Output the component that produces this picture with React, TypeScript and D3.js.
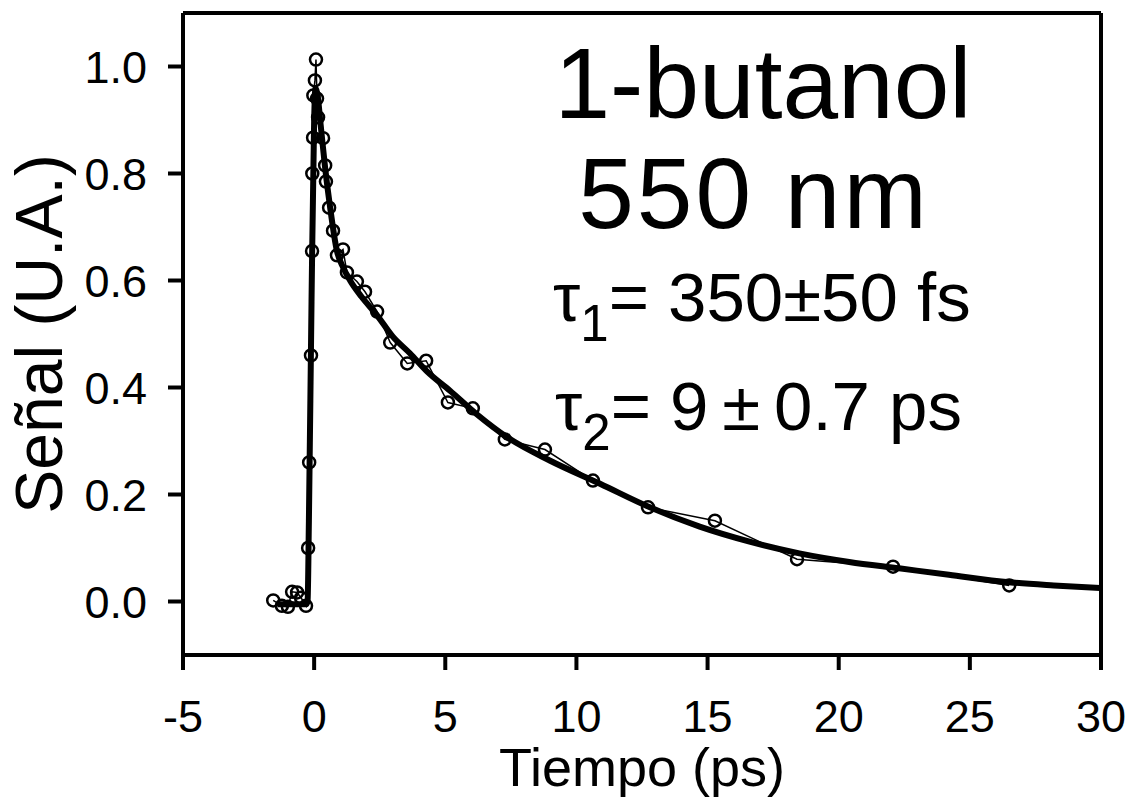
import React from "react";
import * as d3 from "d3";

const dataTime = [-1.56, -1.23, -1.0, -0.84, -0.65, -0.5, -0.31, -0.23, -0.19, -0.12, -0.08, -0.07, -0.04, -0.03, 0.03, 0.07, 0.11, 0.15, 0.34, 0.42, 0.45, 0.57, 0.72, 0.87, 1.1, 1.25, 1.63, 1.94, 2.4, 2.9, 3.55, 4.27, 5.1, 6.05, 7.27, 8.8, 10.63, 12.73, 15.28, 18.41, 22.07, 26.5];
const dataSignal = [0.002, -0.008, -0.01, 0.018, 0.017, 0.007, -0.008, 0.1, 0.26, 0.46, 0.655, 0.8, 0.867, 0.946, 0.974, 1.013, 0.94, 0.905, 0.866, 0.815, 0.785, 0.736, 0.693, 0.647, 0.658, 0.615, 0.598, 0.579, 0.542, 0.484, 0.445, 0.45, 0.372, 0.361, 0.303, 0.284, 0.226, 0.176, 0.151, 0.079, 0.065, 0.03];

const fitTime = [-1.4, -0.3, -0.25, -0.2, -0.1, 0.0, 0.05, 0.12, 0.25, 0.42, 0.6, 0.87, 1.1, 1.37, 1.8, 2.4, 3.0, 3.65, 4.3, 5.18, 6.2, 7.36, 9.0, 10.9, 12.8, 14.7, 16.6, 18.5, 20.4, 22.3, 24.2, 26.5, 28.2, 30];
const fitSignal = [-0.005, -0.005, 0.0, 0.15, 0.56, 0.9, 0.96, 0.95, 0.89, 0.81, 0.74, 0.655, 0.625, 0.6, 0.57, 0.535, 0.495, 0.464, 0.43, 0.394, 0.35, 0.307, 0.263, 0.22, 0.176, 0.14, 0.112, 0.09, 0.074, 0.062, 0.05, 0.036, 0.03, 0.025];

const xTicks = [-5, 0, 5, 10, 15, 20, 25, 30];
const yTicks = [0.0, 0.2, 0.4, 0.6, 0.8, 1.0];

const FONT = "'Liberation Sans', Arial, sans-serif";

export default function App() {
  const left = 183, right = 1101, top = 13, bottom = 655;
  const x = d3.scaleLinear().domain([-5, 30]).range([left, right]);
  const y = d3.scaleLinear().domain([-0.1, 1.1]).range([bottom, top]);

  const dataPts = dataTime.map((t, i) => [t, dataSignal[i]] as [number, number]);
  const fitPts = fitTime.map((t, i) => [t, fitSignal[i]] as [number, number]);
  const line = d3.line<[number, number]>().x(d => x(d[0])).y(d => y(d[1]));
  const fitLine = d3.line<[number, number]>().x(d => x(d[0])).y(d => y(d[1])).curve(d3.curveMonotoneX);

  return (
    <svg width={1126} height={802} style={{ position: "absolute", left: 0, top: 0, background: "#fff" }} fontFamily={FONT}>
      <rect x={0} y={0} width={1126} height={802} fill="#fff" />
      {/* frame */}
      <line x1={left} x2={right} y1={top} y2={top} stroke="#000" strokeWidth={4} />
      <line x1={right} x2={right} y1={top} y2={bottom} stroke="#000" strokeWidth={4} />
      <line x1={left} x2={left} y1={top} y2={bottom} stroke="#000" strokeWidth={4} />
      <line x1={left - 2} x2={right + 2} y1={bottom} y2={bottom} stroke="#000" strokeWidth={4} />
      {/* x ticks */}
      {xTicks.map(t => (
        <g key={"x" + t}>
          <line x1={x(t)} x2={x(t)} y1={bottom} y2={bottom + 15} stroke="#000" strokeWidth={4} />
          <text x={x(t)} y={732} textAnchor="middle" fontSize={45}>{t}</text>
        </g>
      ))}
      {/* y ticks */}
      {yTicks.map(v => (
        <g key={"y" + v}>
          <line x1={left - 15} x2={left} y1={y(v)} y2={y(v)} stroke="#000" strokeWidth={4} />
          <text x={147} y={y(v) + 16} textAnchor="end" fontSize={45}>{v.toFixed(1)}</text>
        </g>
      ))}
      <text x={642} y={786} textAnchor="middle" fontSize={54}>Tiempo (ps)</text>
      <text transform="translate(62,334) rotate(-90)" textAnchor="middle" fontSize={66}>Señal (U.A.)</text>

      {/* data thin line */}
      <path d={line(dataPts) || ""} fill="none" stroke="#000" strokeWidth={1.5} />
      {/* fit */}
      <path d={fitLine(fitPts) || ""} fill="none" stroke="#000" strokeWidth={6} strokeLinejoin="round" />
      {dataPts.map((d, i) => (
        <circle key={i} cx={x(d[0])} cy={y(d[1])} r={6} fill="none" stroke="#000" strokeWidth={2.5} />
      ))}

      <text x={763} y={118} textAnchor="middle" fontSize={100}>1-butanol</text>
      <text x={754} y={228} textAnchor="middle" fontSize={100} letterSpacing={3}>550 nm</text>

      <text x={553} y={321} fontSize={69}>
        <tspan>τ</tspan>
        <tspan dy={20} fontSize={51}>1</tspan>
        <tspan dy={-20}>= 350±50 fs</tspan>
      </text>
      <text x={555} y={430} fontSize={69}>
        <tspan>τ</tspan>
        <tspan dy={20} fontSize={51}>2</tspan>
        <tspan dy={-20}>= 9{"\u2009"}±{"\u2009"}0.7 ps</tspan>
      </text>
    </svg>
  );
}
